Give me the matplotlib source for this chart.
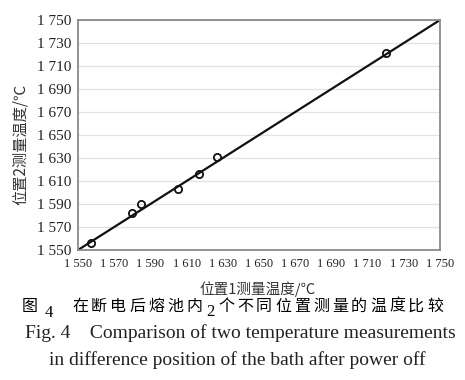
import numpy as np
import matplotlib
matplotlib.use("Agg")
import matplotlib.pyplot as plt

# ============================================================
# DADOS
# ============================================================
pos1_temp = [1557, 1580, 1585, 1605, 1617, 1627, 1720]
pos2_temp = [1556, 1582, 1590, 1603, 1616, 1631, 1721]
fit_line = [1550, 1750]
ticks = list(range(1550, 1751, 20))
tick_labels = [f"{t // 1000} {t % 1000:03d}" for t in ticks]

xlabel = "位置1测量温度/℃"
ylabel = "位置2测量温度/℃"
cap_cn_parts = ["在断电后熔池内", "个不同位置测量的温度比较"]
cap_en_1 = "Fig. 4    Comparison of two temperature measurements"
cap_en_2 = "in difference position of the bath after power off"

CJK = ["Noto Sans CJK SC", "DejaVu Sans"]
SERIF = ["Liberation Serif", "DejaVu Serif"]

# ============================================================
# FIGURA
# ============================================================
W, H = 465, 380
fig = plt.figure(figsize=(W / 100, H / 100), dpi=100)
ax = fig.add_axes([78 / W, 1 - 250 / H, 362 / W, 230 / H])

ax.plot(fit_line, fit_line, color="#111111", lw=1.6, zorder=2)
ax.plot(pos1_temp, pos2_temp, linestyle="none", marker="o", ms=5.2,
        mfc="none", mec="#111111", mew=1.3, zorder=3)

ax.set_xlim(1550, 1750)
ax.set_ylim(1550, 1750)
ax.set_xticks(ticks)
ax.set_yticks(ticks)
ax.set_xticklabels(tick_labels, family=SERIF, fontsize=9)
ax.set_yticklabels(tick_labels, family=SERIF, fontsize=11)
ax.tick_params(axis="both", length=0, colors="#222222")
ax.tick_params(axis="x", pad=6)
ax.tick_params(axis="y", pad=5)
ax.yaxis.grid(True, color="#e2e2e2", lw=0.9)
ax.set_axisbelow(True)
for s in ax.spines.values():
    s.set_color("#8a8a8a")
    s.set_linewidth(1.3)

# rótulos dos eixos
fig.text(20 / W, 1 - 144 / H, ylabel, rotation=90, ha="center", va="center",
         family=CJK, fontsize=11, color="#333333")
fig.text(258 / W, 1 - 289 / H, xlabel, ha="center", va="center",
         family=CJK, fontsize=10.5, color="#333333")

# legenda da figura (chinês)
yc = 1 - 306 / H
fig.text(22 / W, yc, "图", family=CJK, fontsize=11.5, weight="medium",
         ha="left", va="center")
fig.text(45 / W, 1 - 313 / H, "4", family=SERIF, fontsize=12,
         ha="left", va="center")
x0 = 72
for ch in cap_cn_parts[0]:
    fig.text(x0 / W, yc, ch, family=CJK, fontsize=11.5, weight="medium",
             ha="left", va="center")
    x0 += 19
fig.text(206 / W, 1 - 312 / H, "2", family=SERIF, fontsize=12,
         ha="left", va="center")
x0 = 218
for ch in cap_cn_parts[1]:
    fig.text(x0 / W, yc, ch, family=CJK, fontsize=11.5, weight="medium",
             ha="left", va="center")
    x0 += 19

# legenda da figura (inglês)
fig.text(25 / W, 1 - 333 / H, cap_en_1, family=SERIF, fontsize=14,
         ha="left", va="center", color="#222222")
fig.text(237 / W, 1 - 360 / H, cap_en_2, family=SERIF, fontsize=14,
         ha="center", va="center", color="#222222")

fig.savefig("out.png", dpi=100)
